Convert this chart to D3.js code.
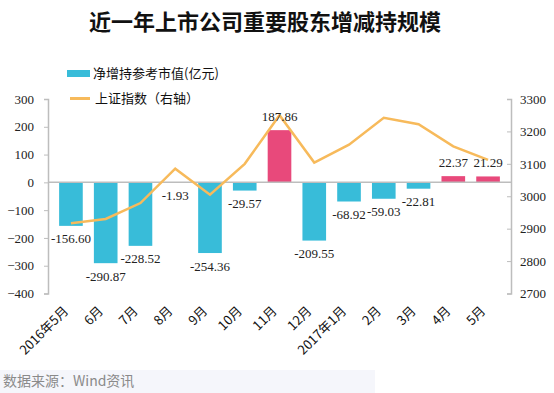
<!DOCTYPE html>
<html>
<head>
<meta charset="utf-8">
<script src="https://cdn.jsdelivr.net/npm/d3@7"></script>
<style>
  body { margin: 0; background: #fff; }
  svg { display: block; }
</style>
</head>
<body>
<div id="chart"></div>
<script>
var months = ["2016年5月", "6月", "7月", "8月", "9月", "10月", "11月", "12月", "2017年1月", "2月", "3月", "4月", "5月"];
var netHolding = [-156.60, -290.87, -228.52, -1.93, -254.36, -29.57, 187.86, -209.55, -68.92, -59.03, -22.81, 22.37, 21.29];
var shIndex = [2917, 2930, 2979, 3085, 3005, 3100, 3250, 3104, 3159, 3242, 3222, 3154, 3112];
var leftTicks = [300, 200, 100, 0, -100, -200, -300, -400];
var rightTicks = [3300, 3200, 3100, 3000, 2900, 2800, 2700];

var width = 554, height = 393
  , plotLeft = 48, plotRight = 511, plotTop = 99, plotBottom = 293.5
  , serif = "'Liberation Serif', 'Times New Roman', serif"
  , sans = "'Noto Sans CJK SC', 'Noto Sans', sans-serif"
  , axisColor = "#bdbdbd";

var svg = d3.select("#chart").append("svg")
  .attr("width", width)
  .attr("height", height);

var x = d3.scaleBand().domain(months).range([plotLeft, plotRight]).padding(0.32);
var y = d3.scaleLinear().domain([-400, 300]).range([plotBottom, plotTop]);
var y2 = d3.scaleLinear().domain([2700, 3300]).range([plotBottom, plotTop]);

// title
svg.append("text")
  .attr("x", 265).attr("y", 30)
  .attr("text-anchor", "middle")
  .attr("font-family", sans)
  .attr("font-weight", "bold")
  .attr("font-size", "22px")
  .attr("fill", "#111")
  .text("近一年上市公司重要股东增减持规模");

// left axis
var yAxis = svg.append("g")
  .attr("transform", "translate(" + plotLeft + ",0)")
  .call(d3.axisLeft(y).tickValues(leftTicks).tickSize(4).tickPadding(10).tickFormat(d3.format("d")));
yAxis.selectAll("text").attr("font-family", serif).attr("font-size", "13px").attr("fill", "#222");

// right axis
var y2Axis = svg.append("g")
  .attr("transform", "translate(" + plotRight + ",0)")
  .call(d3.axisRight(y2).tickValues(rightTicks).tickSize(-4).tickPadding(9).tickFormat(d3.format("d")));
y2Axis.selectAll("text").attr("font-family", serif).attr("font-size", "13px").attr("fill", "#222");

[yAxis, y2Axis].forEach(function (g) {
  g.select(".domain").attr("stroke", axisColor).attr("stroke-width", 1.5);
  g.selectAll(".tick line").attr("stroke", axisColor);
});

// bars
svg.append("g").selectAll("rect")
  .data(netHolding)
  .join("rect")
  .attr("x", function (d, i) { return x(months[i]); })
  .attr("y", function (d) { return y(Math.max(0, d)); })
  .attr("width", x.bandwidth())
  .attr("height", function (d) { return Math.abs(y(d) - y(0)); })
  .attr("fill", function (d) { return d < 0 ? "#38bcd9" : "#e8497b"; });

// zero line
svg.append("line")
  .attr("x1", plotLeft).attr("x2", plotRight)
  .attr("y1", y(0)).attr("y2", y(0))
  .attr("stroke", axisColor)
  .attr("stroke-width", 1.5);

// index line
var line = d3.line()
  .x(function (d, i) { return x(months[i]) + x.bandwidth() / 2; })
  .y(function (d) { return y2(d); });

svg.append("path")
  .datum(shIndex)
  .attr("d", line)
  .attr("fill", "none")
  .attr("stroke", "#f7ba5b")
  .attr("stroke-width", 2.5);

// bar labels
svg.append("g").selectAll("text")
  .data(netHolding)
  .join("text")
  .attr("x", function (d, i) { return x(months[i]) + x.bandwidth() / 2; })
  .attr("y", function (d) { return d < 0 ? y(d) + 13 : y(d) - 14; })
  .attr("dy", ".35em")
  .attr("text-anchor", "middle")
  .attr("font-family", serif)
  .attr("font-size", "13px")
  .attr("fill", "#222")
  .text(function (d) { return d.toFixed(2); });

// x labels
svg.append("g").selectAll("text")
  .data(months)
  .join("text")
  .attr("transform", function (d) {
    return "translate(" + (x(d) + x.bandwidth() / 2 - 5) + "," + (plotBottom + 15) + ") rotate(-45)";
  })
  .attr("text-anchor", "end")
  .attr("dy", ".35em")
  .attr("font-family", sans)
  .attr("font-size", "13px")
  .attr("fill", "#111")
  .text(function (d) { return d; });

// legend
var legend = svg.append("g").attr("font-family", sans).attr("font-size", "13px").attr("fill", "#111");
legend.append("rect")
  .attr("x", 67).attr("y", 70).attr("width", 23).attr("height", 7)
  .attr("fill", "#38bcd9");
legend.append("text")
  .attr("x", 93).attr("y", 73.5).attr("dy", ".35em")
  .text("净增持参考市值(亿元)");
legend.append("line")
  .attr("x1", 70).attr("x2", 90).attr("y1", 98.5).attr("y2", 98.5)
  .attr("stroke", "#f7ba5b").attr("stroke-width", 3);
legend.append("text")
  .attr("x", 95).attr("y", 98.5).attr("dy", ".35em")
  .text("上证指数（右轴）");

// source
svg.append("rect")
  .attr("x", 0).attr("y", 370).attr("width", 375).attr("height", 23)
  .attr("fill", "#f5f6fb");
svg.append("text")
  .attr("x", 3).attr("y", 381).attr("dy", ".35em")
  .attr("font-family", sans)
  .attr("font-size", "14px")
  .attr("fill", "#8a8a8a")
  .text("数据来源：Wind资讯");
</script>
</body>
</html>
